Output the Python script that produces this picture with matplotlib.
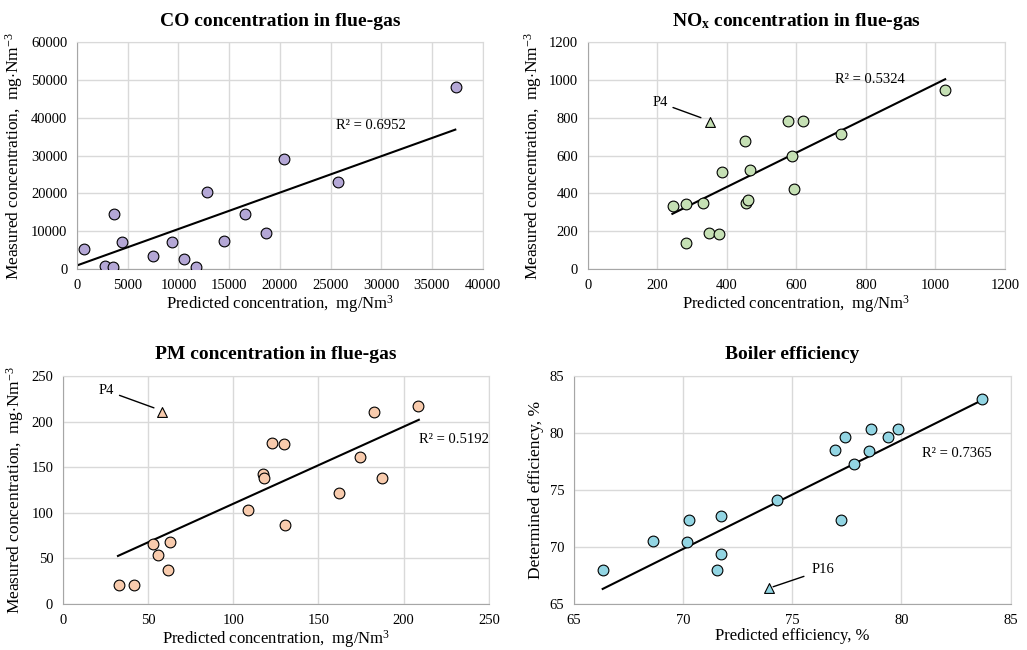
import numpy as np
import matplotlib
matplotlib.use("Agg")
import matplotlib.pyplot as plt

plt.rcParams['font.family'] = ['Liberation Serif', 'DejaVu Serif']
plt.rcParams['mathtext.fontset'] = 'custom'
plt.rcParams['mathtext.rm'] = 'Liberation Serif'
plt.rcParams['mathtext.it'] = 'Liberation Serif:italic'
plt.rcParams['mathtext.bf'] = 'Liberation Serif:bold'

""" Data read from the reference figure """

# CO concentration (mg/Nm3)
co_pred = [720, 2730, 3510, 3650, 4400, 7520, 9330, 10510, 11760, 12780,
           14480, 16520, 18590, 20360, 25750, 37370]
co_meas = [5270, 700, 530, 14680, 7290, 3340, 7200, 2720, 530, 20300,
           7470, 14590, 9670, 29090, 23110, 48150]
co_trend = (0.963, 970)        # slope, intercept as shown in the chart
co_trend_x = (0, 37300)

# NOx concentration (mg/Nm3), P4 plotted separately
nox_pred = [246, 283, 283, 331, 348, 377, 385, 453, 455, 462, 467,
            577, 588, 592, 619, 727, 1028]
nox_meas = [336, 344, 137, 349, 190, 187, 516, 677, 351, 368, 525,
            786, 597, 425, 781, 717, 946]
nox_p4 = (350, 779)
nox_trend = (0.907, 72)
nox_trend_x = (243, 1028)

# PM concentration (mg/Nm3), P4 plotted separately
pm_pred = [32.7, 41.7, 53.0, 56.0, 61.6, 62.6, 108.8, 117.4, 118.2, 122.9,
           129.5, 130.1, 161.8, 174.1, 182.5, 187.4, 208.7]
pm_meas = [21.2, 20.5, 66.3, 54.2, 37.0, 67.7, 103.2, 142.4, 138.4, 176.8,
           175.3, 87.1, 121.9, 160.7, 210.1, 138.7, 217.1]
pm_p4 = (57.9, 210.1)
pm_trend = (0.8454, 25.4)
pm_trend_x = (32.3, 208.9)

# Boiler efficiency (%), P16 plotted separately
eff_pred = [66.31, 68.62, 70.18, 70.25, 71.55, 71.73, 71.75, 74.30, 76.97,
            77.23, 77.40, 77.83, 78.50, 78.61, 79.38, 79.86, 83.70]
eff_meas = [67.96, 70.51, 70.45, 72.35, 67.96, 69.42, 72.70, 74.08, 78.47,
            72.35, 79.61, 77.24, 78.44, 80.38, 79.64, 80.38, 82.95]
eff_p16 = (73.92, 66.41)
eff_trend = (0.9528, 3.14)
eff_trend_x = (66.31, 83.70)

r2_labels = ["R² = 0.6952", "R² = 0.5324", "R² = 0.5192", "R² = 0.7365"]


# Styles the axes like an Excel chart: light grid, grey frame
def style_axes(ax, xlim, ylim, xstep, ystep):
    ax.set_xlim(xlim)
    ax.set_ylim(ylim)
    ax.set_xticks(np.arange(xlim[0], xlim[1] + xstep / 2, xstep))
    ax.set_yticks(np.arange(ylim[0], ylim[1] + ystep / 2, ystep))
    ax.grid(True, color='#d9d9d9', linewidth=1.0)
    ax.set_axisbelow(True)
    for side in ['top', 'right']:
        ax.spines[side].set_color('#d9d9d9')
    for side in ['bottom', 'left']:
        ax.spines[side].set_color('#a6a6a6')
    ax.tick_params(length=0, labelsize=10.5, pad=7)


# Scatter points plus the chart's linear trendline
def scatter_trend(ax, x, y, color, trend, trend_x):
    xs = np.array(trend_x)
    ax.plot(xs, trend[0] * xs + trend[1], color='black', linewidth=1.5, zorder=2)
    ax.scatter(x, y, s=60, color=color, edgecolor='black', linewidth=0.8, zorder=3)


fig = plt.figure(figsize=(10.27, 6.5), dpi=100)

title_kw = dict(fontsize=14, fontweight='bold', pad=12)
lab_kw = dict(fontsize=12.5)
xlab_kw = dict(fontsize=12, labelpad=1)
ylab_conc = r"Measured concentration,  mg$\cdot$Nm$^{-3}$"
xlab_conc = r"Predicted concentration,  mg/Nm$^{3}$"

# CO
ax1 = fig.add_axes([0.075, 0.586, 0.395, 0.349])
style_axes(ax1, (0, 40000), (0, 60000), 5000, 10000)
scatter_trend(ax1, co_pred, co_meas, '#b4a7d6', co_trend, co_trend_x)
ax1.set_title("CO concentration in flue-gas", **title_kw)
ax1.set_xlabel(xlab_conc, **xlab_kw)
ax1.set_ylabel(ylab_conc, labelpad=4, **lab_kw)
ax1.text(25500, 37000, r2_labels[0], fontsize=10.5)

# NOx
ax2 = fig.add_axes([0.5725, 0.586, 0.406, 0.349])
style_axes(ax2, (0, 1200), (0, 1200), 200, 200)
scatter_trend(ax2, nox_pred, nox_meas, '#c5e0b4', nox_trend, nox_trend_x)
ax2.scatter([nox_p4[0]], [nox_p4[1]], marker='^', s=50, color='#c5e0b4',
            edgecolor='black', linewidth=0.8, zorder=3)
ax2.annotate("P4", xy=(nox_p4[0] - 25, nox_p4[1] + 22), xytext=(185, 880),
             fontsize=10.5, va='center',
             arrowprops=dict(arrowstyle='-', color='black', linewidth=1.0,
                             shrinkA=2, shrinkB=0))
ax2.set_title(r"NO$_\mathbf{x}$ concentration in flue-gas", **title_kw)
ax2.set_xlabel(xlab_conc, **xlab_kw)
ax2.set_ylabel(ylab_conc, labelpad=4, **lab_kw)
ax2.text(710, 985, r2_labels[1], fontsize=10.5)

# PM
ax3 = fig.add_axes([0.0613, 0.0708, 0.4147, 0.3507])
style_axes(ax3, (0, 250), (0, 250), 50, 50)
scatter_trend(ax3, pm_pred, pm_meas, '#f8cbad', pm_trend, pm_trend_x)
ax3.scatter([pm_p4[0]], [pm_p4[1]], marker='^', s=50, color='#f8cbad',
            edgecolor='black', linewidth=0.8, zorder=3)
ax3.annotate("P4", xy=(pm_p4[0] - 4.5, pm_p4[1] + 5), xytext=(21, 234),
             fontsize=10.5, va='center',
             arrowprops=dict(arrowstyle='-', color='black', linewidth=1.0,
                             shrinkA=2, shrinkB=0))
ax3.set_title("PM concentration in flue-gas", **title_kw)
ax3.set_xlabel(xlab_conc, **xlab_kw)
ax3.set_ylabel(ylab_conc, labelpad=4, **lab_kw)
ax3.text(209, 177, r2_labels[2], fontsize=10.5)

# Boiler efficiency
ax4 = fig.add_axes([0.559, 0.0708, 0.425, 0.3507])
style_axes(ax4, (65, 85), (65, 85), 5, 5)
scatter_trend(ax4, eff_pred, eff_meas, '#92d5e3', eff_trend, eff_trend_x)
ax4.scatter([eff_p16[0]], [eff_p16[1]], marker='^', s=50, color='#92d5e3',
            edgecolor='black', linewidth=0.8, zorder=3)
ax4.annotate("P16", xy=(eff_p16[0] + 0.2, eff_p16[1] + 0.1), xytext=(75.9, 68.0),
             fontsize=10.5, va='center',
             arrowprops=dict(arrowstyle='-', color='black', linewidth=1.0,
                             shrinkA=4, shrinkB=0))
ax4.set_title("Boiler efficiency", **title_kw)
ax4.set_xlabel("Predicted efficiency, %", **xlab_kw)
ax4.set_ylabel("Determined efficiency, %", labelpad=4, **lab_kw)
ax4.text(80.95, 77.9, r2_labels[3], fontsize=10.5)

fig.savefig("out.png", dpi=100)
